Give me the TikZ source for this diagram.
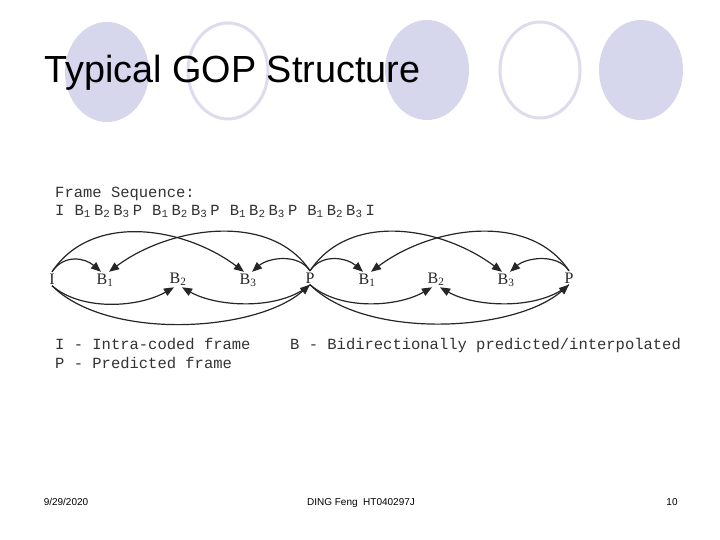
\documentclass[tikz,border=0pt]{standalone}
\usepackage{fontspec}
\setmainfont{Liberation Serif}
\setsansfont{Liberation Sans}
\setmonofont{Liberation Mono}
\usetikzlibrary{arrows.meta,positioning}
\definecolor{lavfill}{RGB}{214,214,236}
\definecolor{lavring}{RGB}{220,220,238}

\begin{document}
\begin{tikzpicture}[x=1pt,y=-1pt]
    \tikzset{
        frm/.style={
            anchor=base,
            inner sep=1.5pt,
            font=\fontsize{16}{16}\selectfont\rmfamily,
            black!85
        }
    }
    \tikzset{
        pred/.style={
            -{Triangle[length=10pt,width=8pt]},
            line width=1.2pt,
            black!85
        }
    }
    \tikzset{
        legend/.style={
            anchor=base west,
            inner sep=0pt,
            font=\fontsize{15.5}{16}\selectfont\ttfamily,
            black!80
        }
    }
    \tikzset{
        foot/.style={
            anchor=base,
            inner sep=0pt,
            font=\fontsize{10}{10}\selectfont\sffamily
        }
    }

    \useasboundingbox[fill=white] (0,0) rectangle (720,540);

    % slide decoration
    \fill[lavfill] (107,72) ellipse [x radius=42pt, y radius=50pt];
    \draw[lavring, line width=3pt] (228,71) ellipse [x radius=40pt, y radius=48pt];
    \fill[lavfill] (427,70) ellipse [x radius=42pt, y radius=50pt];
    \draw[lavring, line width=3pt] (540,70) ellipse [x radius=40pt, y radius=48pt];
    \fill[lavfill] (641,70) ellipse [x radius=42pt, y radius=50pt];

    \node[anchor=base west, inner sep=0pt, font=\fontsize{37.8}{40}\selectfont\sffamily] (title) at (44,83) {Typical GOP Structure};

    \node[legend] (seq) at (55,197) {Frame Sequence:};
    \foreach \lbl [count=\k from 0] in {I,B\textsubscript{1},B\textsubscript{2},B\textsubscript{3},P,B\textsubscript{1},B\textsubscript{2},B\textsubscript{3},P,B\textsubscript{1},B\textsubscript{2},B\textsubscript{3},P,B\textsubscript{1},B\textsubscript{2},B\textsubscript{3},I}
        \node[legend] (s\k) at ({55+19.4*\k},215) {\lbl};

    \node[frm] (I) at (52,284) {I};
    \node[frm] (B1) at (105,284) {B\textsubscript{1}};
    \node[frm] (B2) at (178,283) {B\textsubscript{2}};
    \node[frm] (B3) at (248,284) {B\textsubscript{3}};
    \node[frm] (P) at (310,283) {P};
    \node[frm] (B4) at (367,284) {B\textsubscript{1}};
    \node[frm] (B5) at (436,283) {B\textsubscript{2}};
    \node[frm] (B6) at (506,284) {B\textsubscript{3}};
    \node[frm] (Q) at (569,283) {P};

    \draw[pred] (I.north) .. controls +(12,-18) and +(-16,-14) .. ([xshift=-4pt]B1.north);
    \draw[pred] (I.north) .. controls +(40,-60) and +(-60,-45) .. ([xshift=-4pt]B3.north);
    \draw[pred] (P.north) .. controls +(-40,-60) and +(60,-45) .. ([xshift=4pt]B1.north);
    \draw[pred] (P.north) .. controls +(-12,-18) and +(16,-14) .. ([xshift=4pt]B3.north);
    \draw[pred] (I.south) .. controls +(30,26) and +(-35,20) .. ([xshift=-4pt]B2.south);
    \draw[pred] (I.south) .. controls +(55,55) and +(-55,48) .. (P.south);
    \draw[pred] (P.south) .. controls +(-30,26) and +(35,20) .. ([xshift=4pt]B2.south);

    \draw[pred] (P.north) .. controls +(12,-18) and +(-16,-14) .. ([xshift=-4pt]B4.north);
    \draw[pred] (P.north) .. controls +(40,-60) and +(-60,-45) .. ([xshift=-4pt]B6.north);
    \draw[pred] (Q.north) .. controls +(-40,-60) and +(60,-45) .. ([xshift=4pt]B4.north);
    \draw[pred] (Q.north) .. controls +(-12,-18) and +(16,-14) .. ([xshift=4pt]B6.north);
    \draw[pred] (P.south) .. controls +(30,26) and +(-35,20) .. ([xshift=-4pt]B5.south);
    \draw[pred] (P.south) .. controls +(55,55) and +(-55,48) .. (Q.south);
    \draw[pred] (Q.south) .. controls +(-30,26) and +(35,20) .. ([xshift=4pt]B5.south);

    \node[legend] (li) at (55,349) {I - Intra-coded frame};
    \node[legend] (lb) at (290,349) {B - Bidirectionally predicted/interpolated};
    \node[legend] (lp) at (55,368) {P - Predicted frame};

    \node[foot] (date) at (66,505) {9/29/2020};
    \node[foot] (author) at (361,505) {DING Feng\ \ HT040297J};
    \node[foot] (page) at (672,505) {10};
\end{tikzpicture}
\end{document}
